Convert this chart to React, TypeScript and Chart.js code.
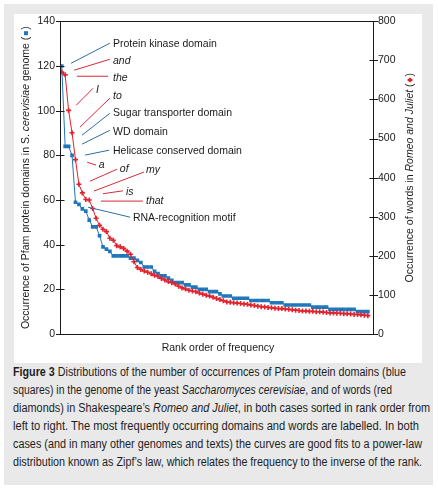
import React, { useEffect, useLayoutEffect, useRef } from "react";
import { Chart, registerables } from "chart.js";

Chart.register(...registerables);

// ---------------- data ----------------
// Pfam domain occurrences in S. cerevisiae, rank ordered (left axis)
const domainCounts = [
  120, 84, 84, 80, 59, 58, 56, 55, 51, 48,
  48, 44, 39, 38, 37, 35, 35, 35, 35, 35,
  34, 34, 33, 32, 30, 30, 30, 28, 27, 26,
  26, 25, 24, 23, 23, 23, 22, 22, 21, 21,
  20, 20, 20, 19, 19, 19, 18, 17, 17, 17,
  16, 16, 16, 16, 16, 15, 15, 15, 15, 15,
  15, 14, 14, 14, 14, 13, 13, 13, 13, 13,
  13, 13, 13, 12, 12, 12, 12, 12, 11, 11,
  11, 11, 11, 11, 11, 11, 10, 10, 10, 10,
];

// Word occurrences in Romeo and Juliet, rank ordered (right axis)
const wordCounts = [
  670, 663, 572, 515, 446, 383, 361, 344, 343, 321,
  296, 278, 268, 262, 245, 240, 226, 223, 219, 212,
  204, 185, 170, 165, 161, 158, 154, 150, 147, 142,
  138, 134, 131, 128, 122, 118, 115, 112, 110, 108,
  105, 102, 99, 97, 94, 91, 88, 85, 82, 81,
  80, 79, 78, 77, 76, 74, 73, 71, 70, 69,
  68, 67, 66, 65, 65, 64, 63, 62, 61, 60,
  59, 59, 58, 58, 57, 57, 56, 55, 54, 54,
  53, 53, 52, 52, 51, 50, 50, 49, 48, 47,
];

const leftTicks = [0, 20, 40, 60, 80, 100, 120, 140];
const rightTicks = [0, 100, 200, 300, 400, 500, 600, 700, 800];

const domainLabels = [
  "Protein kinase domain",
  "Sugar transporter domain",
  "WD domain",
  "Helicase conserved domain",
  "RNA-recognition motif",
];
const wordLabels = ["and", "the", "I", "to", "a", "of", "my", "is", "that"];

const xTitle = "Rank order of frequency";

// ---------------- layout / style ----------------
const BLUE = "#1f76ba";
const RED = "#e2222d";
const BLUE_LINE = "#2c6fa6";
const RED_LINE = "#d52b37";
const INK = "#1a1a1a";
const FONT = '"Liberation Sans", Arial, Helvetica, sans-serif';

// Annotation placement, in (rank, left-axis value) units: leader line start, end, text anchor
const annotationLayout: Record<string, { c: string; it: boolean; l: number[]; t: number[] }> = {
  "Protein kinase domain": { c: "b", it: false, l: [3.7, 121.2, 15.0, 130.2], t: [15.9, 128.6] },
  and: { c: "r", it: true, l: [4.6, 118.1, 15.0, 123.0], t: [15.9, 121.1] },
  the: { c: "r", it: true, l: [5.4, 115.4, 14.5, 115.4], t: [15.9, 113.3] },
  I: { c: "r", it: true, l: [5.2, 102.4, 10.1, 110.0], t: [11.0, 107.8] },
  to: { c: "r", it: true, l: [6.3, 92.6, 15.0, 105.6], t: [15.9, 105.1] },
  "Sugar transporter domain": { c: "b", it: false, l: [6.9, 89.0, 15.0, 98.8], t: [15.9, 97.5] },
  "WD domain": { c: "b", it: false, l: [6.9, 85.0, 15.0, 91.2], t: [15.9, 89.3] },
  "Helicase conserved domain": { c: "b", it: false, l: [7.8, 80.1, 14.8, 82.3], t: [15.9, 80.5] },
  a: { c: "r", it: true, l: [8.4, 76.9, 11.0, 75.6], t: [11.8, 74.4] },
  of: { c: "r", it: true, l: [9.2, 68.4, 17.1, 73.8], t: [17.9, 72.6] },
  my: { c: "r", it: true, l: [10.4, 64.0, 24.9, 72.5], t: [25.5, 72.1] },
  is: { c: "r", it: true, l: [13.0, 62.8, 18.8, 64.1], t: [19.7, 62.2] },
  that: { c: "r", it: true, l: [12.4, 59.5, 24.6, 59.5], t: [25.5, 58.1] },
  "RNA-recognition motif": { c: "b", it: false, l: [8.6, 56.8, 20.9, 52.3], t: [21.7, 50.7] },
};

type Run = { t?: string; it?: boolean; sym?: "sq" | "dm" };
const leftTitle: Run[] = [
  { t: "Occurrence of Pfam protein domains in S. " },
  { t: "cerevisiae", it: true },
  { t: " genome (" },
  { sym: "sq" },
  { t: ")" },
];
const rightTitle: Run[] = [
  { t: "Occurrence of words in " },
  { t: "Romeo and Juliet", it: true },
  { t: " (" },
  { sym: "dm" },
  { t: ")" },
];

function fontFor(it?: boolean, size = 10.5) {
  return `${it ? "italic " : ""}${size}px ${FONT}`;
}

function drawRuns(ctx: CanvasRenderingContext2D, runs: Run[], cx: number, cy: number, angle: number) {
  ctx.save();
  ctx.translate(cx, cy);
  ctx.rotate(angle);
  const symW = 7;
  let total = 0;
  for (const r of runs) {
    if (r.sym) total += symW;
    else {
      ctx.font = fontFor(r.it);
      total += ctx.measureText(r.t!).width;
    }
  }
  let x = -total / 2;
  ctx.textBaseline = "alphabetic";
  ctx.textAlign = "left";
  const base = 3.8;
  for (const r of runs) {
    if (r.sym === "sq") {
      ctx.fillStyle = BLUE;
      ctx.fillRect(x + 1.5, -1, 4, 4);
      x += symW;
    } else if (r.sym === "dm") {
      ctx.fillStyle = RED;
      ctx.beginPath();
      ctx.moveTo(x + 3.5, -2);
      ctx.lineTo(x + 6, 1);
      ctx.lineTo(x + 3.5, 4);
      ctx.lineTo(x + 1, 1);
      ctx.closePath();
      ctx.fill();
      x += symW;
    } else {
      ctx.font = fontFor(r.it);
      ctx.fillStyle = INK;
      ctx.fillText(r.t!, x, base);
      x += ctx.measureText(r.t!).width;
    }
  }
  ctx.restore();
}

const decorPlugin = {
  id: "decor",
  afterDatasetsDraw(chart: any) {
    const { ctx, chartArea: a, scales } = chart;
    const xs = scales.x;
    const ys = scales.y;
    const ys1 = scales.y1;
    ctx.save();
    // frame
    ctx.strokeStyle = INK;
    ctx.lineWidth = 1;
    const L = Math.round(a.left) + 0.5;
    const R = Math.round(a.right) + 0.5;
    const T = Math.round(a.top) + 0.5;
    const B = Math.round(a.bottom) + 0.5;
    ctx.strokeRect(L, T, R - L, B - T);
    // ticks crossing the axes
    ctx.beginPath();
    for (const v of leftTicks) {
      const py = Math.round(ys.getPixelForValue(v)) + 0.5;
      ctx.moveTo(L - 4.5, py);
      ctx.lineTo(L + 4, py);
    }
    for (const v of rightTicks) {
      const py = Math.round(ys1.getPixelForValue(v)) + 0.5;
      ctx.moveTo(R - 4, py);
      ctx.lineTo(R + 4.5, py);
    }
    ctx.stroke();

    // annotations
    const labels = [...domainLabels, ...wordLabels];
    for (const name of labels) {
      const an = annotationLayout[name];
      if (!an) continue;
      const x1 = xs.getPixelForValue(an.l[0]);
      const y1 = ys.getPixelForValue(an.l[1]);
      const x2 = xs.getPixelForValue(an.l[2]);
      const y2 = ys.getPixelForValue(an.l[3]);
      ctx.strokeStyle = an.c === "b" ? BLUE_LINE : RED_LINE;
      ctx.lineWidth = 1;
      ctx.beginPath();
      ctx.moveTo(x1, y1);
      ctx.lineTo(x2, y2);
      ctx.stroke();
      ctx.font = fontFor(an.it);
      ctx.fillStyle = INK;
      ctx.textAlign = "left";
      ctx.textBaseline = "alphabetic";
      ctx.fillText(name, xs.getPixelForValue(an.t[0]), ys.getPixelForValue(an.t[1]));
    }
    ctx.restore();
  },
  afterDraw(chart: any) {
    const { ctx, chartArea: a } = chart;
    const cy = (a.top + a.bottom) / 2;
    drawRuns(ctx, leftTitle, a.left - 35, cy, -Math.PI / 2);
    drawRuns(ctx, rightTitle, a.right + 36, cy, -Math.PI / 2);
    ctx.save();
    ctx.font = fontFor(false);
    ctx.fillStyle = INK;
    ctx.textAlign = "center";
    ctx.textBaseline = "alphabetic";
    ctx.fillText(xTitle, (a.left + a.right) / 2 + 1.5, a.bottom + 16.5);
    ctx.restore();
  },
};

function ZipfChart() {
  const ref = useRef<HTMLCanvasElement | null>(null);
  useEffect(() => {
    if (!ref.current) return;
    const ranks = domainCounts.map((_, i) => i + 1);
    const chart = new Chart(ref.current, {
      type: "line",
      data: {
        datasets: [
          {
            label: "Words",
            data: wordCounts.map((v, i) => ({ x: i + 1, y: v })),
            yAxisID: "y1",
            borderColor: RED,
            backgroundColor: RED,
            borderWidth: 1,
            pointStyle: "cross",
            pointRadius: 2.5,
            pointBorderWidth: 1.6,
            pointBorderColor: RED,
            pointHoverRadius: 2.5,
            tension: 0,
          },
          {
            label: "Domains",
            data: domainCounts.map((v, i) => ({ x: ranks[i], y: v })),
            yAxisID: "y",
            borderColor: BLUE,
            backgroundColor: BLUE,
            borderWidth: 1,
            pointStyle: "rect",
            pointRadius: 2.6,
            pointBorderWidth: 0,
            pointHoverRadius: 2.6,
            tension: 0,
          },
        ],
      },
      options: {
        animation: false,
        responsive: false,
        devicePixelRatio: 1,
        events: [],
        layout: { autoPadding: false, padding: { top: 7, left: 0, right: 0, bottom: 0 } },
        plugins: { legend: { display: false }, tooltip: { enabled: false }, title: { display: false } },
        scales: {
          x: {
            type: "linear",
            min: 0.5,
            max: domainCounts.length + 1.5,
            ticks: { display: false },
            grid: { display: false },
            border: { display: false },
            afterFit: (s: any) => {
              s.height = 29;
            },
          },
          y: {
            type: "linear",
            position: "left",
            min: leftTicks[0],
            max: leftTicks[leftTicks.length - 1],
            afterBuildTicks: (s: any) => {
              s.ticks = leftTicks.map((v) => ({ value: v }));
            },
            ticks: { padding: 1, color: INK, font: { family: FONT, size: 10.5 } },
            grid: { display: true, drawOnChartArea: false, drawTicks: true, tickLength: 4, color: "rgba(0,0,0,0)" },
            border: { display: false },
            afterFit: (s: any) => {
              s.width = 46;
            },
          },
          y1: {
            type: "linear",
            position: "right",
            min: rightTicks[0],
            max: rightTicks[rightTicks.length - 1],
            afterBuildTicks: (s: any) => {
              s.ticks = rightTicks.map((v) => ({ value: v }));
            },
            ticks: { padding: 1, color: INK, font: { family: FONT, size: 10.5 } },
            grid: { display: true, drawOnChartArea: false, drawTicks: true, tickLength: 4, color: "rgba(0,0,0,0)" },
            border: { display: false },
            afterFit: (s: any) => {
              s.width = 49;
            },
          },
        },
      },
      plugins: [decorPlugin],
    } as any);
    return () => chart.destroy();
  }, []);
  return <canvas ref={ref} width={408} height={349} style={{ width: 408, height: 349, display: "block" }} />;
}

const captionLines: React.ReactNode[] = [
  <>
    <b>Figure 3</b> Distributions of the number of occurrences of Pfam protein domains (blue
  </>,
  <>
    squares) in the genome of the yeast <i>Saccharomyces cerevisiae</i>, and of words (red
  </>,
  <>
    diamonds) in Shakespeare’s <i>Romeo and Juliet</i>, in both cases sorted in rank order from
  </>,
  <>left to right. The most frequently occurring domains and words are labelled. In both</>,
  <>cases (and in many other genomes and texts) the curves are good fits to a power-law</>,
  <>distribution known as Zipf’s law, which relates the frequency to the inverse of the rank.</>,
];
// target rendered width of each caption line (px)
const captionWidths = [393, 379, 417, 406, 409, 409];

function Caption() {
  const refs = useRef<(HTMLSpanElement | null)[]>([]);
  useLayoutEffect(() => {
    const fit = () => {
      refs.current.forEach((el, i) => {
        if (!el) return;
        el.style.transform = "none";
        const w = el.getBoundingClientRect().width;
        if (w > 0) el.style.transform = `scaleX(${captionWidths[i] / w})`;
      });
    };
    fit();
    if ((document as any).fonts && (document as any).fonts.ready) (document as any).fonts.ready.then(fit);
  }, []);
  return (
    <div
      style={{
        position: "absolute",
        left: 13,
        top: 363,
        fontFamily: '"Liberation Sans", Arial, sans-serif',
        fontSize: 12.5,
        lineHeight: "18px",
        color: "#1e1e1e",
        whiteSpace: "nowrap",
      }}
    >
      {captionLines.map((l, i) => (
        <div key={i} style={{ height: 18 }}>
          <span
            ref={(el) => {
              refs.current[i] = el;
            }}
            style={{ display: "inline-block", transformOrigin: "0 0" }}
          >
            {l}
          </span>
        </div>
      ))}
    </div>
  );
}

export default function App() {
  return (
    <div style={{ position: "absolute", left: 0, top: 0, width: 438, height: 489, background: "#ffffff", overflow: "hidden" }}>
      <div style={{ position: "absolute", left: 4, top: 4, width: 429, height: 481, background: "#e9e9e9" }} />
      <div style={{ position: "absolute", left: 14, top: 14, width: 408, height: 349, background: "#ffffff" }}>
        <ZipfChart />
      </div>
      <Caption />
    </div>
  );
}
